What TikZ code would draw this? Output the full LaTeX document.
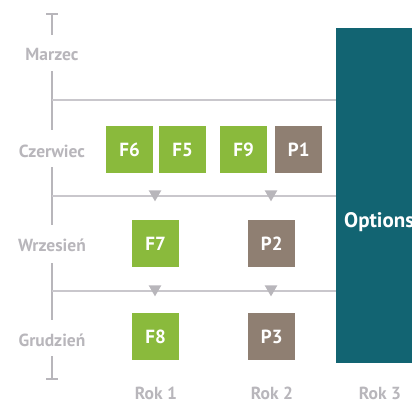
\documentclass[tikz,border=0pt]{standalone}
\usepackage{fontspec}
\usetikzlibrary{shapes.geometric}
\setmainfont{PT Sans}
\definecolor{fgreen}{HTML}{8ABA3C}
\definecolor{pbrown}{HTML}{8F7F72}
\definecolor{oteal}{HTML}{126472}
\definecolor{lgray}{HTML}{B8B6BB}
\definecolor{lline}{HTML}{C9C7CC}
\begin{document}
\begin{tikzpicture}[x=1pt,y=-1pt,
  lab/.style={font=\bfseries\fontsize{17.5}{17.5}\selectfont, text=lgray, inner sep=0pt},
  box/.style={minimum width=47pt, minimum height=47pt, inner sep=0pt, anchor=north west, text=white, font=\bfseries\fontsize{19}{19}\selectfont},
  fbox/.style={box, fill=fgreen},
  pbox/.style={box, fill=pbrown},
  axis/.style={draw=lgray, line width=2pt},
  hline/.style={draw=lline, line width=1.5pt},
  tri/.style={fill=lgray, isosceles triangle, shape border rotate=-90, isosceles triangle apex angle=60, minimum height=11pt, minimum width=12pt, inner sep=0pt}]
\useasboundingbox (0,0) rectangle (412,400);
\begin{scope}
\clip (0,0) rectangle (412,400);
% teal box
\node[fill=oteal, minimum width=90pt, minimum height=335pt, inner sep=0pt, anchor=north west] (opt) at (336,28) {};
\node[anchor=west, text=white, font=\bfseries\fontsize{21}{21}\selectfont, inner sep=0pt] (optt) at (344,222) {Options};
% axis labels
\node[lab] (mar) at (52,54) {Marzec};
\node[lab] (cze) at (52,151) {Czerwiec};
\node[lab] (wrz) at (52,245) {Wrzesień};
\node[lab] (gru) at (52,340) {Grudzień};
\coordinate (t0) at (52,14);
\coordinate (t1) at (52,35);
\coordinate (a1) at (52,71);
\coordinate (a2) at (52,130);
\coordinate (b1) at (52,167);
\coordinate (b2) at (52,225);
\coordinate (c1) at (52,263);
\coordinate (c2) at (52,320);
\coordinate (d1) at (52,356);
\coordinate (d2) at (52,379);
\draw[axis] (t0) -- (t1);
\draw[axis] ([xshift=-6pt]t0) -- ([xshift=6pt]t0);
\draw[axis] (a1) -- (a2);
\draw[axis] (b1) -- (b2);
\draw[axis] (c1) -- (c2);
\draw[axis] (d1) -- (d2);
\draw[axis] ([xshift=-6pt]d2) -- ([xshift=6pt]d2);
% horizontal lines
\coordinate (h1) at (52,100);
\coordinate (h2) at (52,196);
\coordinate (h3) at (52,291);
\draw[hline] (h1) -- (h1 -| opt.west);
\draw[hline] (h2) -- (h2 -| opt.west);
\draw[hline] (h3) -- (h3 -| opt.west);
\node[tri] (tr1) at (155,194) {};
\node[tri] (tr2) at (271,194) {};
\node[tri] (tr3) at (155,289) {};
\node[tri] (tr4) at (271,289) {};
% boxes
\node[fbox] (f6) at (106,126) {F6};
\node[fbox] (f5) at (159,126) {F5};
\node[fbox] (f9) at (220,126) {F9};
\node[pbox] (p1) at (275,126) {P1};
\node[fbox] (f7) at (132,220) {F7};
\node[pbox] (p2) at (248,220) {P2};
\node[fbox] (f8) at (132,313) {F8};
\node[pbox] (p3) at (248,313) {P3};
% years
\node[lab] (r1) at (156,393) {Rok 1};
\node[lab] (r2) at (272,393) {Rok 2};
\node[lab] (r3) at (380,393) {Rok 3};
\end{scope}
\end{tikzpicture}
\end{document}
